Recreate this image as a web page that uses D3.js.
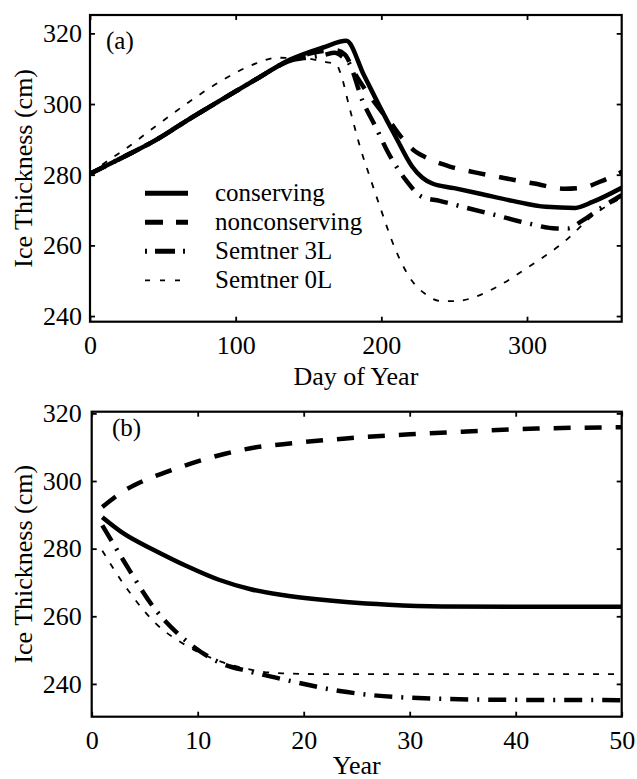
<!DOCTYPE html>
<html>
<head>
<meta charset="utf-8">
<script src="https://cdn.jsdelivr.net/npm/d3@7"></script>
<style>
  html, body { margin: 0; padding: 0; background: #fff; }
  svg { display: block; }
  text { font-family: "Liberation Serif", "Times New Roman", serif; fill: #000; }
</style>
</head>
<body>
<div id="chart"></div>
<script>
// ---------- Panel (a): seasonal cycle, Day of Year ----------
const consDays = [0, 23, 46, 68, 91, 114, 137, 160, 176, 188, 199, 210, 221, 228, 235, 250, 267, 290, 313, 333, 345, 365];
const consThk  = [280.3, 285, 290, 295.7, 301.4, 307, 312.5, 316, 317.9, 308.2, 299.2, 290.6, 282.4, 279.2, 277.5, 276.2, 274.7, 272.6, 270.9, 270.6, 272.3, 276.3];

const nonDays = [0, 23, 46, 68, 91, 114, 137, 150, 160, 169, 175, 182, 190, 199, 205, 214, 222, 231, 247, 265, 285, 305, 326, 338, 350, 365];
const nonThk  = [280.3, 285, 290, 295.7, 301.4, 307, 312.3, 314.2, 315.0, 315.2, 314, 308.5, 303.5, 298.5, 295.5, 290.5, 287, 284.8, 282.3, 280.6, 279, 277.5, 276, 276.3, 278, 280.8];

const s3Days = [0, 23, 46, 68, 91, 114, 137, 150, 160, 168, 173, 178, 187, 196, 205, 217, 228, 240, 256, 279, 301, 320, 328, 338, 352, 365];
const s3Thk  = [280.3, 285, 290, 295.7, 301.4, 307, 312.2, 313.2, 313.8, 314.5, 313.5, 311.5, 301, 293.6, 286, 278.4, 273.7, 272.6, 270.9, 268.5, 266.2, 264.8, 264.8, 267, 270.9, 274.2];

const s0Days = [0, 11, 23, 46, 68, 91, 114, 128, 148, 160, 169, 172, 178, 186, 192, 199, 210, 221, 230, 240, 251, 265, 279, 301, 324, 347, 365];
const s0Thk  = [280.3, 283.6, 286.9, 294, 300.6, 306.8, 311.5, 313.1, 312.9, 312, 311.3, 308.7, 299.2, 287, 279.5, 271, 258.5, 250, 246.3, 244.3, 244.2, 245.5, 248.2, 253.9, 260.5, 269, 273.5];

const dayTicks = [0, 100, 200, 300];
const thkTicksA = [240, 260, 280, 300, 320];

// ---------- Panel (b): multi-year spin-up ----------
const yrCons = [1, 3, 6, 9, 12, 15, 18, 21, 24, 28, 33, 40, 50];
const bCons  = [289.3, 284.5, 279.4, 274.8, 270.8, 268.0, 266.3, 265.1, 264.2, 263.4, 262.9, 262.8, 262.8];

const yrNon = [1, 3, 5, 7, 10, 12.5, 15, 19, 24, 30, 35, 42, 50];
const bNon  = [292.3, 297, 300.2, 302.6, 305.8, 308, 309.7, 311.2, 312.6, 313.8, 314.6, 315.5, 315.9];

const yrS3 = [1, 3, 6, 9, 12, 15, 18.7, 23.4, 30, 39, 50];
const bS3  = [286.9, 276.5, 262, 252.5, 246.4, 243.6, 240.9, 237.9, 235.9, 235.3, 235.2];

const yrS0 = [1, 3, 6, 9, 12, 15, 18, 22, 30, 50];
const bS0  = [279.4, 269.6, 258, 251.2, 246.8, 244.2, 243.1, 242.9, 242.9, 242.9];

const yearTicks = [0, 10, 20, 30, 40, 50];
const thkTicksB = [240, 260, 280, 300, 320];

const seriesNames = ["conserving", "nonconserving", "Semtner 3L", "Semtner 0L"];

// ---------- styles ----------
const styles = {
  "conserving":    { width: 4.5, dash: null },
  "nonconserving": { width: 4.5, dash: "17,14" },
  "Semtner 3L":    { width: 4.5, dash: "18,9,2,9" },
  "Semtner 0L":    { width: 1.8, dash: "6,9" }
};
const legendDash = {
  "conserving": null,
  "nonconserving": "18,13",
  "Semtner 3L": "2,8,20,8",
  "Semtner 0L": "5,10"
};

const W = 637, H = 779;
const svg = d3.select("#chart").append("svg").attr("width", W).attr("height", H);

function panel(cfg) {
  const x = d3.scaleLinear().domain(cfg.xdom).range([cfg.x0, cfg.x1]);
  const y = d3.scaleLinear().domain(cfg.ydom).range([cfg.y1, cfg.y0]);
  const g = svg.append("g");
  const clipId = "clip" + cfg.id;
  svg.append("clipPath").attr("id", clipId).append("rect")
    .attr("x", cfg.x0).attr("y", cfg.y0).attr("width", cfg.x1 - cfg.x0).attr("height", cfg.y1 - cfg.y0);

  const line = d3.line().x(d => x(d[0])).y(d => y(d[1])).curve(d3.curveMonotoneX);
  cfg.series.forEach((s, i) => {
    const st = styles[seriesNames[i]];
    const pts = s.xs.map((v, k) => [v, s.ys[k]]);
    g.append("path").attr("d", line(pts))
      .attr("clip-path", `url(#${clipId})`)
      .attr("fill", "none").attr("stroke", "#000")
      .attr("stroke-width", st.width)
      .attr("stroke-dasharray", st.dash)
      .attr("stroke-linejoin", "round");
  });

  const fmt = d3.format("d");
  const ax = [
    g.append("g").attr("transform", `translate(0,${cfg.y1})`)
      .call(d3.axisBottom(x).tickValues(cfg.xticks).tickSize(-5).tickPadding(cfg.xpad).tickFormat(fmt)),
    g.append("g").attr("transform", `translate(0,${cfg.y0})`)
      .call(d3.axisTop(x).tickValues(cfg.xticks).tickSize(-5).tickFormat("")),
    g.append("g").attr("transform", `translate(${cfg.x0},0)`)
      .call(d3.axisLeft(y).tickValues(cfg.yticks).tickSize(-5).tickPadding(cfg.ypad).tickFormat(fmt)),
    g.append("g").attr("transform", `translate(${cfg.x1},0)`)
      .call(d3.axisRight(y).tickValues(cfg.yticks).tickSize(-5).tickFormat(""))
  ];
  ax.forEach(a => {
    a.select(".domain").remove();
    a.selectAll(".tick line").attr("stroke", "#000").attr("stroke-width", 1.8);
    a.selectAll(".tick text").style("font-family", '"Liberation Serif", serif')
      .style("font-size", "26px").attr("fill", "#000");
  });

  g.append("rect").attr("x", cfg.x0).attr("y", cfg.y0)
    .attr("width", cfg.x1 - cfg.x0).attr("height", cfg.y1 - cfg.y0)
    .attr("fill", "none").attr("stroke", "#000").attr("stroke-width", 2.2);

  g.append("text").attr("x", (cfg.x0 + cfg.x1) / 2).attr("y", cfg.xlabelY)
    .attr("text-anchor", "middle").style("font-size", "26px").text(cfg.xlabel);
  g.append("text")
    .attr("transform", `translate(32,${(cfg.y0 + cfg.y1) / 2}) rotate(-90)`)
    .attr("text-anchor", "middle").style("font-size", "26px").text("Ice Thickness (cm)");

  g.append("text").attr("x", cfg.tagX).attr("y", cfg.tagY)
    .style("font-size", "25px").text(cfg.tag);
  return { x, y, g };
}

const pa = panel({
  id: "a", x0: 90, x1: 621.7, y0: 15, y1: 321.7,
  xdom: [0, 365], ydom: [238.4, 325.2],
  xticks: dayTicks, yticks: thkTicksA, xpad: 14, ypad: 8,
  xlabel: "Day of Year", xlabelY: 385, tag: "(a)", tagX: 106, tagY: 49,
  series: [
    { xs: consDays, ys: consThk },
    { xs: nonDays, ys: nonThk },
    { xs: s3Days, ys: s3Thk },
    { xs: s0Days, ys: s0Thk }
  ]
});

panel({
  id: "b", x0: 91.7, x1: 621.7, y0: 411.7, y1: 716.7,
  xdom: [0, 50], ydom: [230.3, 320.5],
  xticks: yearTicks, yticks: thkTicksB, xpad: 14, ypad: 10,
  xlabel: "Year", xlabelY: 774, tag: "(b)", tagX: 112, tagY: 436,
  series: [
    { xs: yrCons, ys: bCons },
    { xs: yrNon, ys: bNon },
    { xs: yrS3, ys: bS3 },
    { xs: yrS0, ys: bS0 }
  ]
});

const legY0 = 193.3, legStep = 29;
const leg = pa.g.append("g");
seriesNames.forEach((name, i) => {
  const yy = legY0 + i * legStep;
  leg.append("line").attr("x1", 145).attr("x2", 188).attr("y1", yy).attr("y2", yy)
    .attr("stroke", "#000")
    .attr("stroke-width", name === "Semtner 0L" ? 1.8 : 5)
    .attr("stroke-dasharray", legendDash[name]);
  leg.append("text").attr("x", 215).attr("y", yy + 7.5)
    .style("font-size", "25px").text(name);
});
</script>
</body>
</html>
